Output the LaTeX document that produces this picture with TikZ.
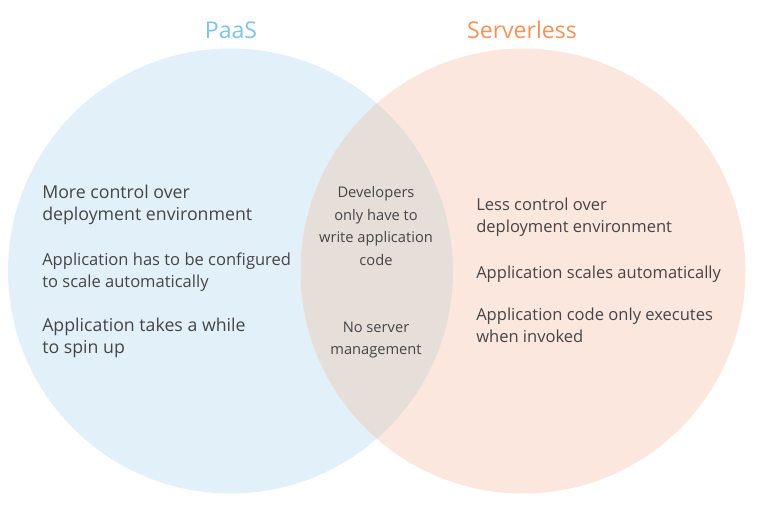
\documentclass[tikz,border=0pt]{standalone}
\usepackage{fontspec}
\setmainfont{Open Sans}
\usepackage{tikz}
\usetikzlibrary{positioning}
\definecolor{paasfill}{HTML}{E2F1F9}
\definecolor{srvfill}{HTML}{FCE7DE}
\definecolor{bothfill}{HTML}{E6DED9}
\definecolor{paastitle}{HTML}{7EC4E4}
\definecolor{srvtitle}{HTML}{F6925A}
\definecolor{bodytext}{HTML}{454545}

\tikzset{
  title/.style={font=\fontsize{17.3}{20}\selectfont, inner sep=0pt},
  item/.style={font=\fontsize{12.4}{16.5}\selectfont, text=bodytext, align=left, anchor=west, inner sep=0pt},
  bigitem/.style={item, font=\fontsize{13.3}{16.5}\selectfont},
  mid/.style={font=\fontsize{11}{16.9}\selectfont, text=bodytext, align=center, inner sep=0pt}
}

\begin{document}
\begin{tikzpicture}[x=0.75pt, y=-0.75pt]
  \useasboundingbox (0,0) rectangle (766,507);
  % the two sets
  \fill[paasfill] (230.5,271) circle (222.5);
  \fill[srvfill] (523,271) circle (222.5);
  \begin{scope}
    \clip (230.5,271) circle (222.5);
    \fill[bothfill] (523,271) circle (222.5);
  \end{scope}

  \node[title, text=paastitle] (paas) at (231,30) {PaaS};
  \node[title, text=srvtitle] (serverless) at (522,30) {Serverless};

  % PaaS only
  \node[bigitem] (more) at (42,205) {More control over\\deployment environment};
  \node[item] (config) at (42,272) {Application has to be configured\\to scale automatically};
  \node[bigitem] (spin) at (42,338) {Application takes a while\\to spin up};

  % shared
  \node[mid] (dev) at (376,226) {Developers\\only have to\\write application\\code};
  \node[mid] (noserver) at (376,340) {No server\\management};

  % Serverless only
  \node[item] (less) at (476,217) {Less control over\\deployment environment};
  \node[item] (scales) at (476,274) {Application scales automatically};
  \node[item] (invoked) at (476,325) {Application code only executes\\when invoked};
\end{tikzpicture}
\end{document}
